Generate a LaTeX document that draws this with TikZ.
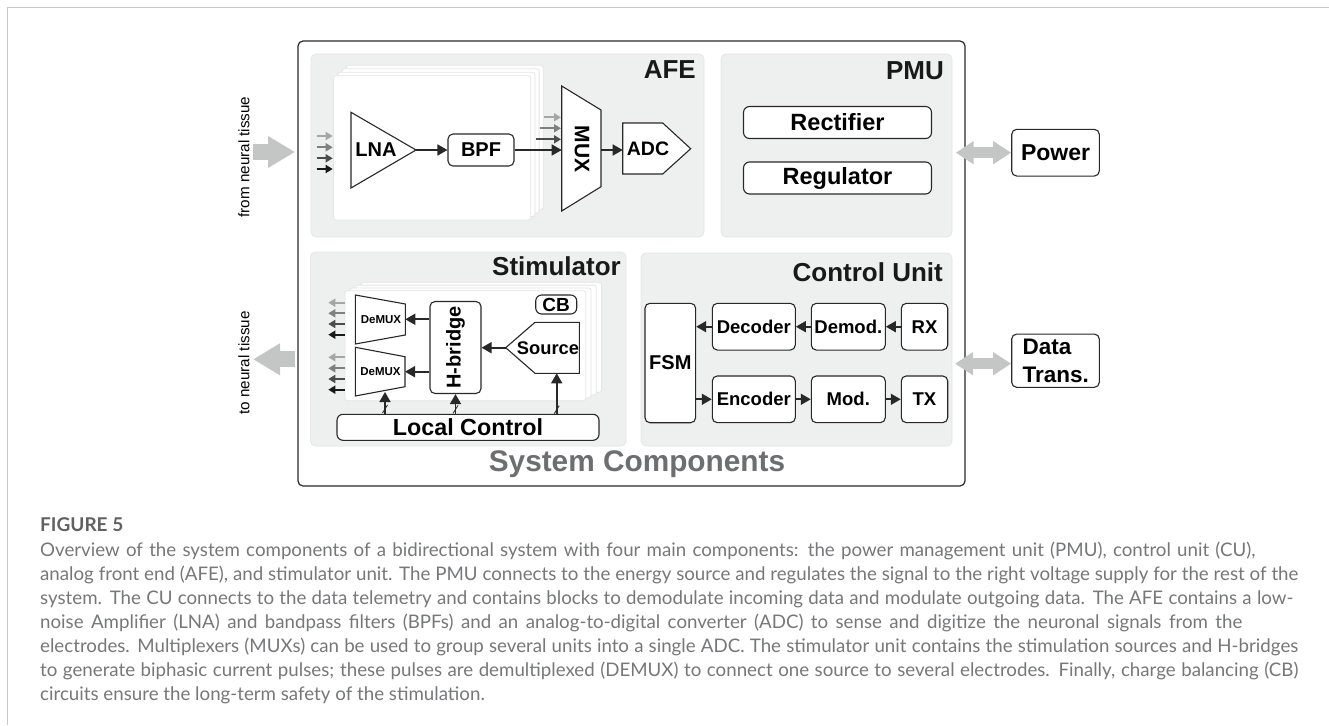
\documentclass[tikz,border=0pt]{standalone}
\usepackage{fontspec}
\setmainfont{Liberation Sans}
\newfontfamily\capfont{Lato}
\usepackage{xcolor}
\definecolor{panelcolor}{RGB}{238, 239, 239}
\definecolor{edgecolor}{RGB}{40, 40, 40}
\definecolor{bigcolor}{RGB}{196, 197, 197}
\definecolor{syscolor}{RGB}{109, 110, 112}
\definecolor{capcolor}{RGB}{118, 119, 121}
\definecolor{rulecolor}{RGB}{200, 200, 200}
\usepackage{tikz}
\usetikzlibrary{arrows.meta, calc}
\def\capline#1#2{\makebox[#1pt][s]{#2}}
\tikzset{
  panel/.style={fill=panelcolor,draw=black!10,line width=0.8pt,rounded corners=5pt},
  card/.style={fill=white,draw=black!10,line width=0.8pt,rounded corners=2.5pt},
  block/.style={draw=edgecolor,fill=white,line width=1.1pt,rounded corners=5pt,inner sep=0pt,
    font=\bfseries\fontsize{18.5}{20}\selectfont},
  shapeline/.style={draw=edgecolor,fill=white,line width=1.1pt,line join=miter},
  sig/.style={draw=#1,line width=1.7pt,-{Triangle[length=10pt,width=11pt]}},
  sig/.default=edgecolor,
  thinsig/.style={draw=#1,line width=1.7pt,-{Triangle[length=7pt,width=8pt]}},
  bigarrow/.style={draw=bigcolor,line width=16pt,-{Triangle[length=27pt,width=30pt]}},
  bothways/.style={draw=bigcolor,line width=11pt,{Triangle[length=18pt,width=22pt]}-{Triangle[length=18pt,width=22pt]}},
  title/.style={font=\bfseries\fontsize{26}{28}\selectfont,text=black!90,inner sep=0pt},
  lbl/.style={font=\bfseries\fontsize{20}{22}\selectfont,inner sep=0pt},
  side/.style={font=\fontsize{15.2}{17}\selectfont,rotate=90,inner sep=0pt}
}
\begin{document}
\begin{tikzpicture}[x=1pt,y=-1pt]
  \useasboundingbox (0,0) rectangle (1329,725);
  \draw[rulecolor,line width=1.2pt] (7.5,725) -- (7.5,7.5) -- (1329,7.5);

  % outer frame and the four panels
  \draw[edgecolor,line width=1.2pt,rounded corners=5pt] (298,41) rectangle (965,486);
  \draw[panel] (311,54) rectangle (704,237);
  \draw[panel] (721,54) rectangle (952,237);
  \draw[panel] (310.5,252) rectangle (626,446);
  \draw[panel] (641,253) rectangle (952,446);
  \node[title,anchor=east] (afetitle) at (696,70) {AFE};
  \node[title,anchor=east] (pmutitle) at (944,71) {PMU};
  \node[title,anchor=east] (stimtitle) at (621,266) {Stimulator};
  \node[title,anchor=east] (cutitle) at (943,272) {Control Unit};
  \node[inner sep=0pt,text=syscolor,font=\bfseries\fontsize{29.8}{32}\selectfont] (systitle) at (637,464) {System Components};

  % AFE
  \foreach \X in {3,2,1,0}
    \draw[card] (333.5+4.2*\X,75.7-3.5*\X) rectangle (530.7+4.2*\X,220-3.5*\X);
  \draw[shapeline] (351,112.3) coordinate(lnaa) -- (351,188) coordinate(lnab) -- (416,150) coordinate(lnatip) -- cycle;
  \node[lbl] (lna) at (376,150) {LNA};
  \node[block,minimum width=66pt,minimum height=32pt,font=\bfseries\fontsize{20}{22}\selectfont] (bpf) at (481,150) {BPF};
  \draw[shapeline] (561.7,86) coordinate(muxa) -- (601,110) -- (601,186.7) -- (561.7,211) -- cycle;
  \node[lbl,rotate=-90,font=\bfseries\fontsize{21}{23}\selectfont] (mux) at (582,149) {MUX};
  \coordinate (muxin) at (561.7,150);
  \coordinate (muxout) at (601,150);
  \draw[shapeline] (622.7,123) -- (662.7,123) -- (690.7,148.7) -- (662.7,174) -- (622.7,174) -- cycle;
  \coordinate (adcin) at (622.7,150);
  \node[lbl,font=\bfseries\fontsize{19.5}{22}\selectfont] (adc) at (648,149) {ADC};
  \draw[sig] (lnatip) -- (bpf.west);
  \draw[sig] (bpf.east) -- (muxin);
  \draw[sig] (muxout) -- (adcin);
  \foreach \X/\Y/\Z/\C in {316.7/136/332.7/black!35,316.7/147.3/332.7/black!50,316.7/158.3/332.7/black!70,316.7/169/332.7/black!90,544/117.3/561/black!35,540/128.3/561/black!50,536/139.3/561/black!70}
    \draw[thinsig=\C] (\X,\Y) -- (\Z,\Y);

  % PMU
  \node[block,minimum width=188pt,minimum height=32pt,rounded corners=6pt,font=\bfseries\fontsize{23.5}{25}\selectfont] (rect) at (837.5,122.5) {Rectifier};
  \node[block,minimum width=188pt,minimum height=32pt,rounded corners=6pt,font=\bfseries\fontsize{23.5}{25}\selectfont] (reg) at (837.5,178) {Regulator};

  % Stimulator
  \foreach \X in {3,2,1,0}
    \draw[card] (345+5.3*\X,290.7-2.8*\X) rectangle (585.7+5.3*\X,400.7-2.8*\X);
  \node[block,minimum width=41pt,minimum height=19pt,rounded corners=6pt,font=\bfseries\fontsize{19}{21}\selectfont] (cb) at (556.2,304.5) {CB};
  \draw[shapeline] (355.3,295) -- (405.3,304) -- (405.3,335) -- (355.3,344) -- cycle;
  \draw[shapeline] (355.3,347.3) -- (405,356.7) -- (405,386.7) -- (355.3,396) -- cycle;
  \node[inner sep=0pt,font=\bfseries\fontsize{11.5}{13}\selectfont] (demuxa) at (381,319.5) {DeMUX};
  \node[inner sep=0pt,font=\bfseries\fontsize{11.5}{13}\selectfont] (demuxb) at (380.5,371.7) {DeMUX};
  \coordinate (dma) at (405.3,319.3);
  \coordinate (dmb) at (405,371.7);
  \coordinate (dmc) at (385,392);
  \node[block,rotate=90,minimum width=92pt,minimum height=51pt,font=\bfseries\fontsize{20}{22}\selectfont] (hb) at (455.5,347.5) {H-bridge};
  \draw[shapeline] (579.3,322.3) -- (535,322.3) -- (505.7,347.7) -- (535,373.3) -- (579.3,373.3) -- cycle;
  \coordinate (srcl) at (505.7,347.7);
  \coordinate (srcb) at (556.7,373.3);
  \node[lbl,font=\bfseries\fontsize{18.3}{20}\selectfont] (src) at (548,348.5) {Source};
  \node[block,minimum width=262pt,minimum height=26pt,rounded corners=6pt,font=\bfseries\fontsize{23.3}{25}\selectfont] (lc) at (468,427.3) {Local Control};
  \draw[sig] (hb.north |- dma) -- (dma);
  \draw[sig] (hb.north |- dmb) -- (dmb);
  \draw[sig] (srcl) -- (hb.south |- srcl);
  \draw[sig] (lc.north -| dmc) -- coordinate[pos=.22](ta) (dmc);
  \draw[sig] (lc.north -| hb.center) -- coordinate[pos=.22](tb) (hb.west);
  \draw[sig] (lc.north -| srcb) -- coordinate[pos=.1](tc) (srcb);
  \foreach \T in {ta,tb,tc}
    \draw[edgecolor,line width=0.8pt] ($(\T)+(-2.5,4)$) -- ($(\T)+(2.5,-4)$);
  \foreach \Y/\C in {302.7/black!35,313.3/black!50,324/black!70,334.7/black!90,357.3/black!35,368.3/black!50,379/black!70,389.7/black!90}
    \draw[thinsig=\C] (345,\Y) -- (328.3,\Y);

  % Control unit
  \node[block,minimum width=50.7pt,minimum height=119.4pt,font=\bfseries\fontsize{20}{22}\selectfont] (fsm) at (670.3,363) {FSM};
  \foreach \N/\T/\X/\W in {dec/Decoder/753.8/83,dem/Demod./848.3/74,rx/RX/924.5/46.4}
    \node[block,minimum width=\W pt,minimum height=46.7pt] (\N) at (\X,326.7) {\T};
  \foreach \N/\T/\X/\W in {enc/Encoder/753.8/83,mod/Mod./848.3/74,tx/TX/924.5/46.4}
    \node[block,minimum width=\W pt,minimum height=46.7pt] (\N) at (\X,399.3) {\T};
  \draw[sig] (rx) -- (dem);
  \draw[sig] (dem) -- (dec);
  \draw[sig] (dec.west) -- (fsm.east |- dec.west);
  \draw[sig] (fsm.east |- enc.west) -- (enc.west);
  \draw[sig] (enc) -- (mod);
  \draw[sig] (mod) -- (tx);

  % outside of the frame
  \node[block,minimum width=87.6pt,minimum height=46.7pt,font=\bfseries\fontsize{23}{25}\selectfont] (power) at (1055.5,152.7) {Power};
  \node[block,minimum width=87.6pt,minimum height=53.3pt,font=\bfseries\fontsize{22.5}{28}\selectfont,align=left,text width=66pt] (data) at (1055.5,360.7) {Data\\Trans.};
  \coordinate (pmuport) at (955.7,152.7);
  \coordinate (cuport) at (955,363.7);
  \draw[bothways] (pmuport) -- (pmuport -| power.west);
  \draw[bothways] (cuport) -- (cuport -| data.west);
  \coordinate (infrom) at (253,152);
  \coordinate (into) at (295,152);
  \coordinate (outfrom) at (295,359.3);
  \coordinate (outto) at (253,359.3);
  \draw[bigarrow] (infrom) -- (into);
  \draw[bigarrow] (outfrom) -- (outto);
  \node[side] (fromtissue) at (244,157) {from neural tissue};
  \node[side] (totissue) at (244,363) {to neural tissue};

  % caption
  \node[anchor=west,inner sep=0pt,text=black!62,font=\capfont\bfseries\fontsize{19}{21}\selectfont] (figlabel) at (40,525) {FIGURE 5};
  \node[anchor=north west,inner sep=0pt,text=capcolor,align=left,font=\capfont\fontsize{18.7}{24}\selectfont] (caption) at (40,542) {\capline{1215}{Overview of the system components of a bidirectional system with four main components: the power management unit (PMU), control unit (CU),}\\
\capline{1258}{analog front end (AFE), and stimulator unit. The PMU connects to the energy source and regulates the signal to the right voltage supply for the rest of the}\\
\capline{1253}{system. The CU connects to the data telemetry and contains blocks to demodulate incoming data and modulate outgoing data. The AFE contains a low-}\\
\capline{1202}{noise Amplifier (LNA) and bandpass filters (BPFs) and an analog-to-digital converter (ADC) to sense and digitize the neuronal signals from the}\\
\capline{1258}{electrodes. Multiplexers (MUXs) can be used to group several units into a single ADC. The stimulator unit contains the stimulation sources and H-bridges}\\
\capline{1258}{to generate biphasic current pulses; these pulses are demultiplexed (DEMUX) to connect one source to several electrodes. Finally, charge balancing (CB)}\\
circuits ensure the long-term safety of the stimulation.};
\end{tikzpicture}
\end{document}
